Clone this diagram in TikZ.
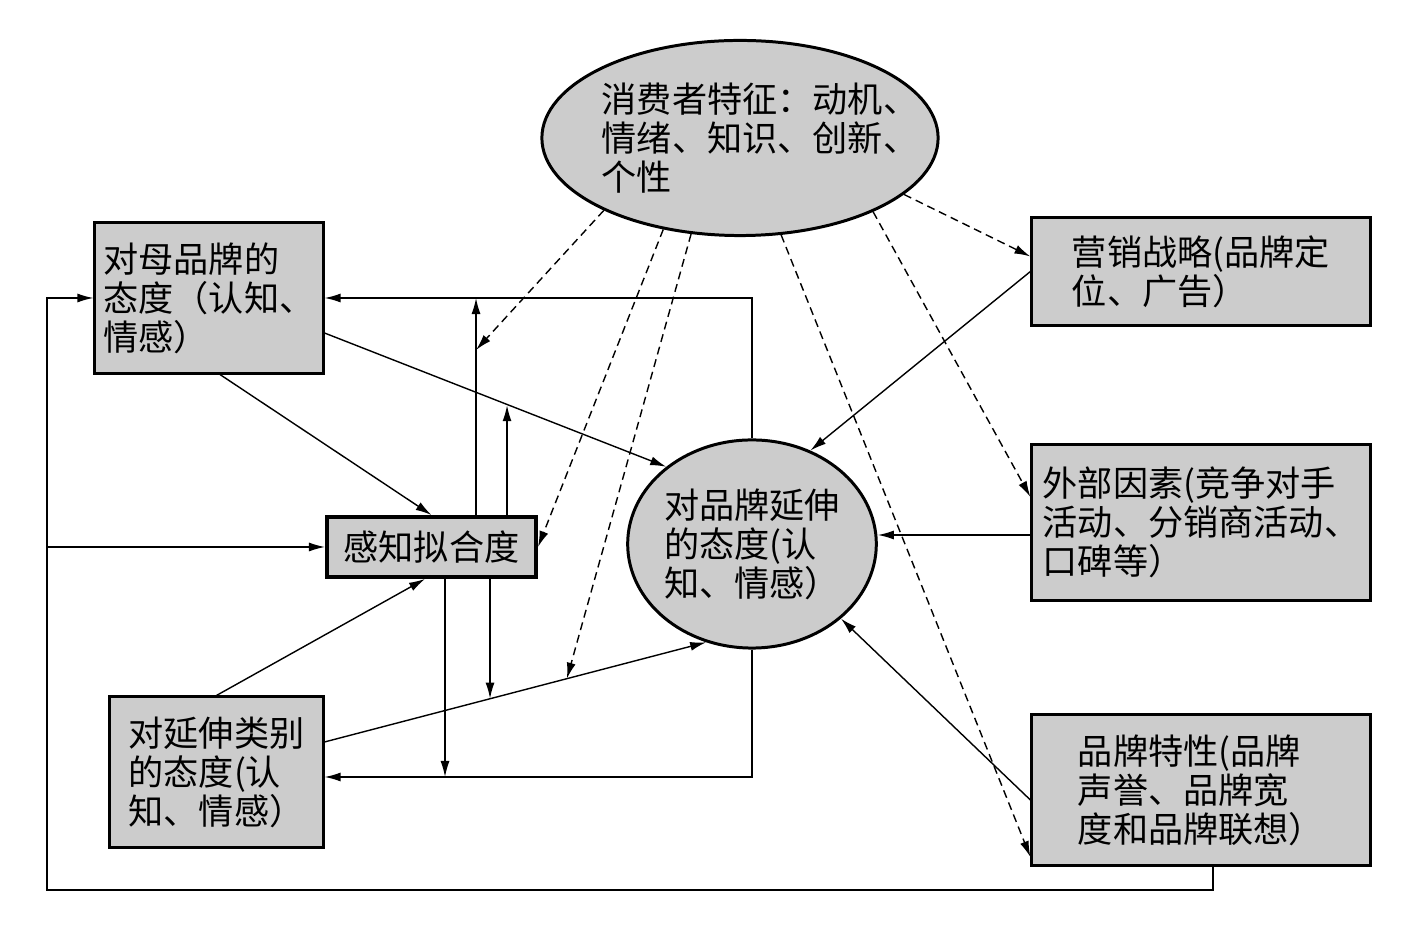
\documentclass[tikz,border=0pt]{standalone}
\usepackage{fontspec}
\newfontfamily\cjk{Noto Sans CJK SC}
\usepackage{tikz}
\usetikzlibrary{arrows.meta,calc,shapes.geometric}
\definecolor{boxgray}{gray}{0.8}

\begin{document}
\begin{tikzpicture}[
		x=0.01cm, y=-0.01cm,
		every node/.style={font=\cjk\fontsize{10}{11.1}\selectfont, align=left, inner sep=0pt},
		box/.style={draw, line width=0.85pt, fill=boxgray, minimum width=3.38cm},
		fitbox/.style={draw, line width=1.1pt, fill=boxgray, minimum width=2.09cm, minimum height=0.6cm},
		oval/.style={ellipse, draw, line width=0.85pt, fill=boxgray},
		arr/.style={-{Latex[length=1.6mm,width=0.9mm]}, line width=0.4pt},
		dasharr/.style={arr, dash pattern=on 0.8mm off 0.5mm}
	]

	\useasboundingbox (0,0) rectangle (1420,928);

	\node[oval, minimum width=3.96cm, minimum height=1.95cm] (T) at (740,138) {};
	\node (tt) at (760,138) {消费者特征：动机、\\情绪、知识、创新、\\个性};

	\node[box, minimum width=2.28cm, minimum height=1.5cm] (A) at (209,298) {对母品牌的\\态度（认知、\\情感）};
	\node[fitbox] (Fit) at (431.5,547) {感知拟合度};
	\node[box, minimum width=2.13cm, minimum height=1.5cm] (C) at (216.5,772) {对延伸类别\\的态度(认\\知、情感）};
	\node[oval, minimum width=2.48cm, minimum height=2.08cm] (E) at (752,544) {对品牌延伸\\的态度(认\\知、情感）};

	\node[box, minimum height=1.07cm] (M) at (1201,271.5) {营销战略(品牌定\\位、广告）};
	\node[box, minimum height=1.55cm] (X) at (1201,522.5) {外部因素(竞争对手\\活动、分销商活动、\\口碑等）};
	\node[box, minimum height=1.5cm] (B) at (1201,790) {品牌特性(品牌\\声誉、品牌宽\\度和品牌联想）};

	\coordinate (ae1) at ([yshift=-3.5mm]A.east);
	\coordinate (ce1) at ([yshift=3mm]C.east);
	\coordinate (cl) at ([yshift=-0.5mm]C.east);
	\coordinate (aeMid) at ($(ae1)!0.54!(E.138)$);
	\coordinate (ceMid) at ($(ce1)!0.435!(E.245)$);
	\coordinate (ceDash) at ($(ce1)!0.635!(E.245)$);
	\coordinate (fu1) at ([xshift=4.45mm]Fit.north);
	\coordinate (fu2) at ([xshift=7.55mm]Fit.north);
	\coordinate (fd1) at ([xshift=1.35mm]Fit.south);
	\coordinate (fd2) at ([xshift=5.85mm]Fit.south);
	\coordinate (xw) at ([yshift=-1.25mm]X.west);
	\coordinate (b0) at ([xshift=1.2mm]B.south);
	\coordinate (loopL) at (47,890);

	\draw[arr] ([xshift=1.1mm]A.south) -- (Fit.north);
	\draw[arr] (ae1) -- (E.138);
	\draw[arr] (C.north) -- ([xshift=-0.65mm]Fit.south);
	\draw[arr] (ce1) -- (E.245);
	\draw[arr] (E.north) |- (A.east);
	\draw[arr] (E.south) |- (cl);
	\draw[arr] (fu1) -- (fu1 |- A.east);
	\draw[arr] (fu2) -- (fu2 |- aeMid);
	\draw[arr] (fd1) -- (fd1 |- cl);
	\draw[arr] (fd2) -- (fd2 |- ceMid);
	\draw[arr] (M.west) -- (E.58);
	\draw[arr] (xw) -- (xw -| E.east);
	\draw[arr] ([yshift=-1mm]B.west) -- (E.320);
	\draw[arr] (b0) |- (loopL) |- (A.west);
	\draw[arr] (loopL |- Fit.west) -- (Fit.west);

	\draw[dasharr] (T.208) -- (fu1 |- 0,350);
	\draw[dasharr] (T.230) -- (Fit.east);
	\draw[dasharr] (T.243) -- (ceDash);
	\draw[dasharr] (T.293) -- ([yshift=-6.7mm]B.west);
	\draw[dasharr] (T.331) -- ([yshift=2.55mm]X.west);
	\draw[dasharr] (T.341) -- ([yshift=1.5mm]M.west);

\end{tikzpicture}
\end{document}
